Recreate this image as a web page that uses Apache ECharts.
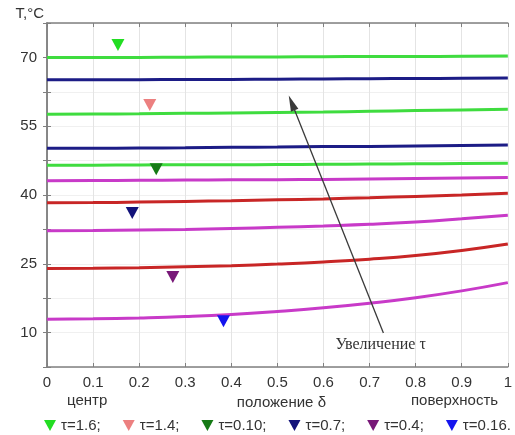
<!DOCTYPE html>
<html>
<head>
<meta charset="utf-8">
<script src="https://cdn.jsdelivr.net/npm/echarts@6/dist/echarts.min.js"></script>
<style>
  html, body { margin: 0; padding: 0; background: #ffffff; }
  #chart { width: 515px; height: 435px; }
</style>
</head>
<body>
<div id="chart"></div>
<script>
// Relative position across the layer: 0 = centre, 1 = surface
const delta = [0, 0.1, 0.2, 0.3, 0.4, 0.5, 0.6, 0.7, 0.8, 0.9, 1];

// Temperature profiles, °C, from the latest moment (top) to the earliest (bottom)
const profileA = [70.0, 70.0, 70.0, 70.05, 70.1, 70.1, 70.15, 70.2, 70.2, 70.25, 70.3];
const profileB = [65.1, 65.1, 65.15, 65.2, 65.2, 65.25, 65.3, 65.35, 65.4, 65.45, 65.5];
const profileC = [57.6, 57.65, 57.7, 57.8, 57.9, 58.0, 58.1, 58.25, 58.4, 58.55, 58.7];
const profileD = [50.2, 50.2, 50.25, 50.3, 50.4, 50.45, 50.55, 50.6, 50.7, 50.8, 50.9];
const profileE = [46.5, 46.5, 46.55, 46.6, 46.6, 46.65, 46.7, 46.75, 46.8, 46.85, 46.9];
const profileF = [43.1, 43.15, 43.2, 43.25, 43.3, 43.35, 43.4, 43.5, 43.6, 43.7, 43.8];
const profileG = [38.3, 38.35, 38.45, 38.6, 38.75, 38.95, 39.15, 39.4, 39.7, 40.0, 40.4];
const profileH = [32.2, 32.25, 32.35, 32.5, 32.7, 32.95, 33.25, 33.6, 34.1, 34.8, 35.6];
const profileI = [24.0, 24.05, 24.15, 24.35, 24.6, 24.95, 25.4, 26.0, 26.8, 27.9, 29.3];
const profileJ = [12.9, 13.0, 13.2, 13.5, 13.95, 14.6, 15.4, 16.4, 17.6, 19.1, 20.9];

const profiles = [profileA, profileB, profileC, profileD, profileE,
                  profileF, profileG, profileH, profileI, profileJ];
const profileColors = ['#3fdc3f', '#1c1c86', '#3fdc3f', '#1c1c86', '#3fdc3f',
                       '#c83ac8', '#c82626', '#c83ac8', '#c82626', '#c83ac8'];

// Time markers: name, position δ, temperature
const markerNames = ['τ=1.6;', 'τ=1.4;', 'τ=0.10;', 'τ=0.7;', 'τ=0.4;', 'τ=0.16.'];
const markerDelta = [0.154, 0.223, 0.237, 0.185, 0.273, 0.383];
const markerTemp  = [72.7, 59.6, 45.6, 36.1, 22.1, 12.5];
const markerColors = ['#22dd22', '#ec8080', '#157a15', '#12127a', '#781878', '#1414ee'];

// Arrow "increase of τ": start and end (δ, T)
const arrowFrom = [0.730, 9.9];
const arrowTo   = [0.531, 60.1];
const arrowLabelAt = [0.724, 7.3];

// Axis ticks
const yLabelValues = [10, 25, 40, 55, 70];

const FONT = 'Liberation Sans, Arial, sans-serif';
const AXIS_COLOR = '#808080';

const downTriangle = 'path://M0,0 L12,0 L6,11 Z';

const series = [];

profiles.forEach((p, i) => {
  series.push({
    name: 'profile' + i,
    type: 'line',
    smooth: 0.5,
    symbol: 'none',
    data: delta.map((d, k) => [d, p[k]]),
    lineStyle: { color: profileColors[i], width: 3 },
    z: 3,
    silent: true
  });
});

markerNames.forEach((n, i) => {
  series.push({
    name: n,
    type: 'scatter',
    symbol: downTriangle,
    symbolSize: [13, 12],
    itemStyle: { color: markerColors[i], opacity: 1 },
    data: [[markerDelta[i], markerTemp[i]]],
    z: 5
  });
});

// Arrow with its caption
series.push({
  name: 'arrow',
  type: 'line',
  data: [],
  silent: true,
  markLine: {
    silent: true,
    symbol: ['none', 'triangle'],
    symbolSize: [8, 16],
    lineStyle: { color: '#3a3a3a', width: 1.3, type: 'solid' },
    label: { show: false },
    data: [[{ coord: arrowFrom }, { coord: arrowTo }]]
  },
  markPoint: {
    silent: true,
    symbol: 'circle',
    symbolSize: 0,
    label: {
      show: true,
      position: 'inside',
      formatter: 'Увеличение τ',
      color: '#333333',
      fontFamily: 'Liberation Serif, Times New Roman, serif',
      fontSize: 16
    },
    data: [{ coord: arrowLabelAt }]
  }
});

const chart = echarts.init(document.getElementById('chart'));
chart.setOption({
  backgroundColor: '#ffffff',
  animation: false,
  grid: { left: 47, right: 5, top: 23, bottom: 68 },
  legend: {
    data: markerNames.map(n => ({ name: n, icon: downTriangle })),
    left: 44,
    width: 471,
    bottom: 2,
    padding: 0,
    itemWidth: 12,
    itemHeight: 11,
    itemGap: 22,
    textStyle: { fontFamily: FONT, fontSize: 15, color: '#333333' },
    selectedMode: false
  },
  xAxis: [{
    type: 'value',
    min: 0, max: 1, interval: 0.1,
    name: 'положение δ',
    nameLocation: 'middle',
    nameGap: 26,
    nameTextStyle: { fontFamily: FONT, fontSize: 15, color: '#333333', padding: [0, 0, 0, 8] },
    axisLine: { lineStyle: { color: AXIS_COLOR, width: 1.5 } },
    axisTick: { inside: true, length: 4, lineStyle: { color: AXIS_COLOR } },
    axisLabel: { fontFamily: FONT, fontSize: 15, color: '#333333', margin: 8 },
    splitLine: { show: true, lineStyle: { color: '#e4e4e4', width: 1 } }
  }, {
    type: 'value',
    position: 'top',
    min: 0, max: 1, interval: 0.1,
    axisLine: { show: true, lineStyle: { color: AXIS_COLOR, width: 1.5 } },
    axisTick: { show: true, inside: true, length: 4, lineStyle: { color: AXIS_COLOR } },
    axisLabel: { show: false },
    splitLine: { show: false }
  }],
  yAxis: [{
    type: 'value',
    min: 2.5, max: 77.5, interval: 7.5,
    name: 'T,°C',
    nameLocation: 'end',
    nameGap: 2,
    nameTextStyle: { fontFamily: FONT, fontSize: 15, color: '#333333', align: 'right', verticalAlign: 'bottom', padding: [0, 3, 0, 0] },
    axisLine: { show: true, lineStyle: { color: AXIS_COLOR, width: 1.5 } },
    axisTick: { show: true, inside: true, length: 4, lineStyle: { color: AXIS_COLOR } },
    axisLabel: {
      fontFamily: FONT, fontSize: 15, color: '#333333', margin: 10,
      formatter: v => (yLabelValues.indexOf(Math.round(v * 10) / 10) >= 0 ? String(Math.round(v)) : '')
    },
    splitLine: { show: true, lineStyle: { color: '#f0f0f0', width: 1 } }
  }, {
    type: 'value',
    position: 'right',
    min: 2.5, max: 77.5, interval: 7.5,
    axisLine: { show: true, lineStyle: { color: AXIS_COLOR, width: 1.5 } },
    axisTick: { show: true, inside: true, length: 4, lineStyle: { color: AXIS_COLOR } },
    axisLabel: { show: false },
    splitLine: { show: false }
  }],
  graphic: [
    { type: 'text', left: 67, top: 393, style: { text: 'центр', fontFamily: FONT, fontSize: 15, fill: '#333333' } },
    { type: 'text', left: 411, top: 393, style: { text: 'поверхность', fontFamily: FONT, fontSize: 15, fill: '#333333' } }
  ],
  series: series
});
</script>
</body>
</html>
